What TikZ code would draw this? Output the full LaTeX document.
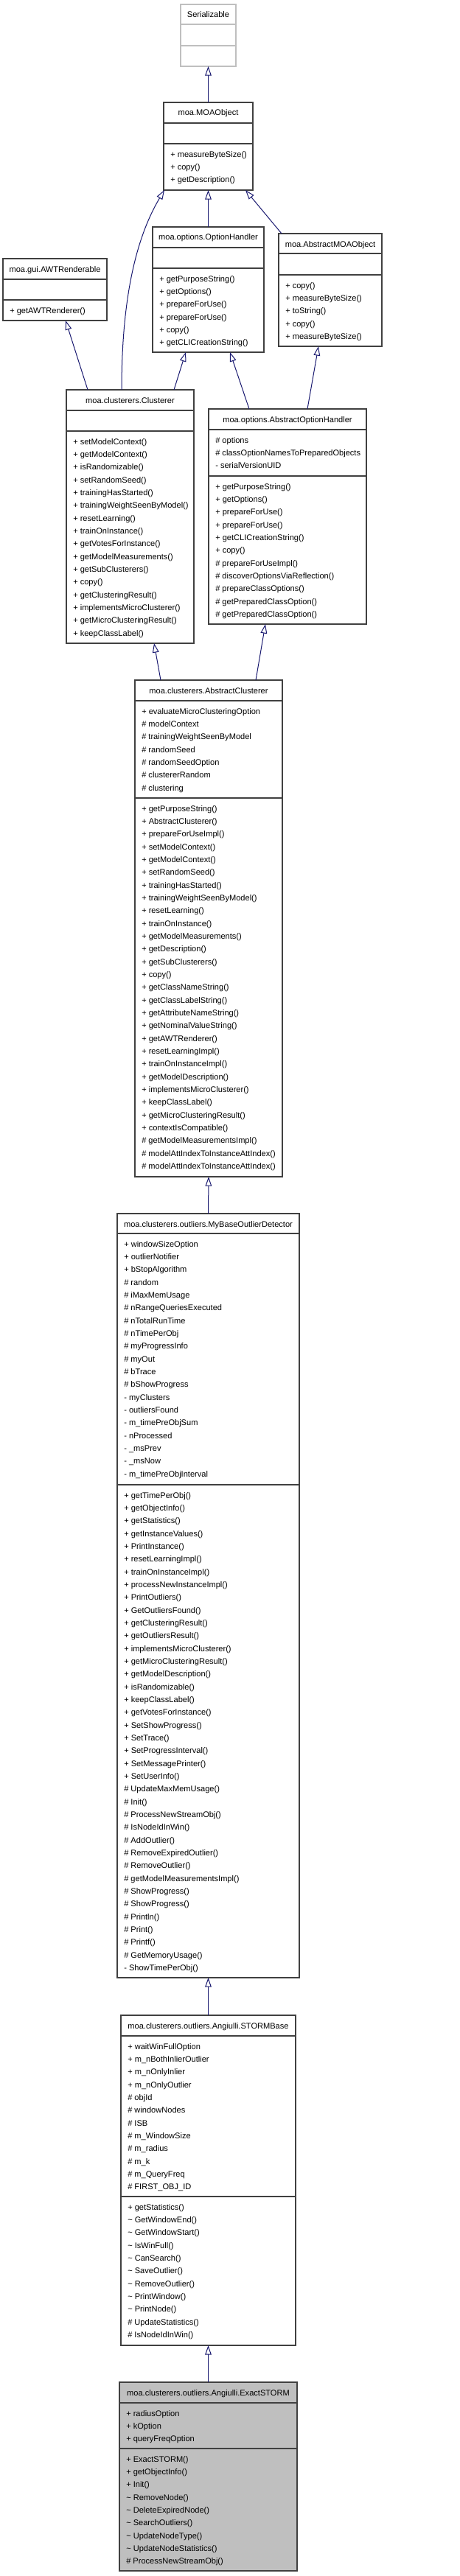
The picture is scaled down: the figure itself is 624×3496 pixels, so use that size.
\documentclass[tikz,border=0pt]{standalone}
\usepackage{fontspec}
\setmainfont{Liberation Sans}
\usetikzlibrary{arrows.meta,fit,calc}
\definecolor{EdgeBlue}{HTML}{191970}
\definecolor{BoxGrey}{HTML}{404040}
\definecolor{ExtGrey}{HTML}{BFBFBF}
\definecolor{SelFill}{HTML}{BFBFBF}

\begin{document}
\begin{tikzpicture}[x=0.75pt, y=-0.75pt,
    classbox/.style={draw=BoxGrey, fill=white, line width=0.9pt, inner sep=0pt, outer sep=0pt},
    extbox/.style={classbox, draw=ExtGrey},
    selbox/.style={classbox, fill=SelFill},
    divider/.style={draw=BoxGrey, line width=0.9pt},
    extdivider/.style={draw=ExtGrey, line width=0.9pt},
    title/.style={anchor=base, inner sep=0pt, font=\fontsize{8.3}{13}\selectfont},
    members/.style={anchor=north west, align=left, inner sep=0pt, font=\fontsize{8.3}{13}\selectfont},
    inherit/.style={draw=EdgeBlue, line width=0.75pt, -{Triangle[open, length=9.5pt, width=6.5pt]}}]

    \fill[white] (0,0) rectangle (624,3496);
    \useasboundingbox (0,0) rectangle (624,3496);

    % Serializable
    \node[extbox, fit={(245,6) (320,90)}] (ser) {};
    \draw[extdivider] (245,33) -- (320,33);
    \draw[extdivider] (245,62) -- (320,62);
    \node[title] (ser-t) at (282.5,24) {Serializable};

    % MOAObject
    \node[classbox, fit={(222,139) (343,258)}] (moa) {};
    \draw[divider] (222,167) -- (343,167);
    \draw[divider] (222,195) -- (343,195);
    \node[title] (moa-t) at (282.5,157) {moa.MOAObject};
    \node[members] (moa-m) at (231,205) {+ measureByteSize()\\+ copy()\\+ getDescription()};

    % OptionHandler
    \node[classbox, fit={(207,308) (358,478)}] (opth) {};
    \draw[divider] (207,336) -- (358,336);
    \draw[divider] (207,364) -- (358,364);
    \node[title] (opth-t) at (282.5,326) {moa.options.OptionHandler};
    \node[members] (opth-m) at (216,374) {+ getPurposeString()\\+ getOptions()\\+ prepareForUse()\\+ prepareForUse()\\+ copy()\\+ getCLICreationString()};

    % AbstractMOAObject
    \node[classbox, fit={(378,317) (518,470)}] (amoa) {};
    \draw[divider] (378,344) -- (518,344);
    \draw[divider] (378,373) -- (518,373);
    \node[title] (amoa-t) at (448,335) {moa.AbstractMOAObject};
    \node[members] (amoa-m) at (387,383) {+ copy()\\+ measureByteSize()\\+ toString()\\+ copy()\\+ measureByteSize()};

    % AWTRenderable
    \node[classbox, fit={(4,351) (145,435)}] (awt) {};
    \draw[divider] (4,379) -- (145,379);
    \draw[divider] (4,407) -- (145,407);
    \node[title] (awt-t) at (74.5,369) {moa.gui.AWTRenderable};
    \node[members] (awt-m) at (13,417) {+ getAWTRenderer()};

    % Clusterer
    \node[classbox, fit={(90,529) (263,873)}] (clus) {};
    \draw[divider] (90,557) -- (263,557);
    \draw[divider] (90,585) -- (263,585);
    \node[title] (clus-t) at (176.5,547) {moa.clusterers.Clusterer};
    \node[members] (clus-m) at (99,595) {+ setModelContext()\\+ getModelContext()\\+ isRandomizable()\\+ setRandomSeed()\\+ trainingHasStarted()\\+ trainingWeightSeenByModel()\\+ resetLearning()\\+ trainOnInstance()\\+ getVotesForInstance()\\+ getModelMeasurements()\\+ getSubClusterers()\\+ copy()\\+ getClusteringResult()\\+ implementsMicroClusterer()\\+ getMicroClusteringResult()\\+ keepClassLabel()};

    % AbstractOptionHandler
    \node[classbox, fit={(283,555) (497,847)}] (aoh) {};
    \draw[divider] (283,583) -- (497,583);
    \draw[divider] (283,646) -- (497,646);
    \node[title] (aoh-t) at (390,573) {moa.options.AbstractOptionHandler};
    \node[members] (aoh-a) at (292,593) {\# options\\\# classOptionNamesToPreparedObjects\\- serialVersionUID};
    \node[members] (aoh-m) at (292,656) {+ getPurposeString()\\+ getOptions()\\+ prepareForUse()\\+ prepareForUse()\\+ getCLICreationString()\\+ copy()\\\# prepareForUseImpl()\\\# discoverOptionsViaReflection()\\\# prepareClassOptions()\\\# getPreparedClassOption()\\\# getPreparedClassOption()};

    % AbstractClusterer
    \node[classbox, fit={(183,923) (383,1597)}] (aclus) {};
    \draw[divider] (183,951) -- (383,951);
    \draw[divider] (183,1083) -- (383,1083);
    \node[title] (aclus-t) at (283,941) {moa.clusterers.AbstractClusterer};
    \node[members] (aclus-a) at (192,961) {+ evaluateMicroClusteringOption\\\# modelContext\\\# trainingWeightSeenByModel\\\# randomSeed\\\# randomSeedOption\\\# clustererRandom\\\# clustering};
    \node[members] (aclus-m) at (192,1093) {+ getPurposeString()\\+ AbstractClusterer()\\+ prepareForUseImpl()\\+ setModelContext()\\+ getModelContext()\\+ setRandomSeed()\\+ trainingHasStarted()\\+ trainingWeightSeenByModel()\\+ resetLearning()\\+ trainOnInstance()\\+ getModelMeasurements()\\+ getDescription()\\+ getSubClusterers()\\+ copy()\\+ getClassNameString()\\+ getClassLabelString()\\+ getAttributeNameString()\\+ getNominalValueString()\\+ getAWTRenderer()\\+ resetLearningImpl()\\+ trainOnInstanceImpl()\\+ getModelDescription()\\+ implementsMicroClusterer()\\+ keepClassLabel()\\+ getMicroClusteringResult()\\+ contextIsCompatible()\\\# getModelMeasurementsImpl()\\\# modelAttIndexToInstanceAttIndex()\\\# modelAttIndexToInstanceAttIndex()};

    % MyBaseOutlierDetector
    \node[classbox, fit={(159,1647) (406,2684)}] (mbod) {};
    \draw[divider] (159,1674) -- (406,1674);
    \draw[divider] (159,2015) -- (406,2015);
    \node[title] (mbod-t) at (282.5,1665) {moa.clusterers.outliers.MyBaseOutlierDetector};
    \node[members] (mbod-a) at (168,1684) {+ windowSizeOption\\+ outlierNotifier\\+ bStopAlgorithm\\\# random\\\# iMaxMemUsage\\\# nRangeQueriesExecuted\\\# nTotalRunTime\\\# nTimePerObj\\\# myProgressInfo\\\# myOut\\\# bTrace\\\# bShowProgress\\- myClusters\\- outliersFound\\- m\_timePreObjSum\\- nProcessed\\- \_msPrev\\- \_msNow\\- m\_timePreObjInterval};
    \node[members] (mbod-m) at (168,2025) {+ getTimePerObj()\\+ getObjectInfo()\\+ getStatistics()\\+ getInstanceValues()\\+ PrintInstance()\\+ resetLearningImpl()\\+ trainOnInstanceImpl()\\+ processNewInstanceImpl()\\+ PrintOutliers()\\+ GetOutliersFound()\\+ getClusteringResult()\\+ getOutliersResult()\\+ implementsMicroClusterer()\\+ getMicroClusteringResult()\\+ getModelDescription()\\+ isRandomizable()\\+ keepClassLabel()\\+ getVotesForInstance()\\+ SetShowProgress()\\+ SetTrace()\\+ SetProgressInterval()\\+ SetMessagePrinter()\\+ SetUserInfo()\\\# UpdateMaxMemUsage()\\\# Init()\\\# ProcessNewStreamObj()\\\# IsNodeIdInWin()\\\# AddOutlier()\\\# RemoveExpiredOutlier()\\\# RemoveOutlier()\\\# getModelMeasurementsImpl()\\\# ShowProgress()\\\# ShowProgress()\\\# Println()\\\# Print()\\\# Printf()\\\# GetMemoryUsage()\\- ShowTimePerObj()};

    % STORMBase
    \node[classbox, fit={(164,2735) (401,3183)}] (stb) {};
    \draw[divider] (164,2763) -- (401,2763);
    \draw[divider] (164,2981) -- (401,2981);
    \node[title] (stb-t) at (282.5,2753) {moa.clusterers.outliers.Angiulli.STORMBase};
    \node[members] (stb-a) at (173,2773) {+ waitWinFullOption\\+ m\_nBothInlierOutlier\\+ m\_nOnlyInlier\\+ m\_nOnlyOutlier\\\# objId\\\# windowNodes\\\# ISB\\\# m\_WindowSize\\\# m\_radius\\\# m\_k\\\# m\_QueryFreq\\\# FIRST\_OBJ\_ID};
    \node[members] (stb-m) at (173,2991) {+ getStatistics()\\\textasciitilde{} GetWindowEnd()\\\textasciitilde{} GetWindowStart()\\\textasciitilde{} IsWinFull()\\\textasciitilde{} CanSearch()\\\textasciitilde{} SaveOutlier()\\\textasciitilde{} RemoveOutlier()\\\textasciitilde{} PrintWindow()\\\textasciitilde{} PrintNode()\\\# UpdateStatistics()\\\# IsNodeIdInWin()};

    % ExactSTORM
    \node[selbox, fit={(162,3233) (403,3489)}] (exs) {};
    \draw[divider] (162,3261) -- (403,3261);
    \draw[divider] (162,3323) -- (403,3323);
    \node[title] (exs-t) at (282.5,3251) {moa.clusterers.outliers.Angiulli.ExactSTORM};
    \node[members] (exs-a) at (171,3271) {+ radiusOption\\+ kOption\\+ queryFreqOption};
    \node[members] (exs-m) at (171,3333) {+ ExactSTORM()\\+ getObjectInfo()\\+ Init()\\\textasciitilde{} RemoveNode()\\\textasciitilde{} DeleteExpiredNode()\\\textasciitilde{} SearchOutliers()\\\textasciitilde{} UpdateNodeType()\\\textasciitilde{} UpdateNodeStatistics()\\\# ProcessNewStreamObj()};

    % inheritance
    \draw[inherit] (moa.north) -- (ser.south);
    \draw[inherit] ($(clus.north west)+(75,0)$) .. controls ($(clus.north west)+(75,-109)$) and ($(moa.south west)+(-42,72)$) .. ($(moa.south west)+(1,0)$);
    \draw[inherit] (opth.north) -- (moa.south);
    \draw[inherit] ($(amoa.north west)+(4,0)$) -- ($(moa.south east)+(-10,0)$);
    \draw[inherit] ($(clus.north west)+(29,0)$) -- ($(awt.south west)+(85,0)$);
    \draw[inherit] ($(clus.north west)+(146,0)$) -- ($(opth.south west)+(45,0)$);
    \draw[inherit] ($(aoh.north west)+(55,0)$) -- ($(opth.south west)+(105,0)$);
    \draw[inherit] ($(aoh.north west)+(134,0)$) -- ($(amoa.south west)+(54,0)$);
    \draw[inherit] ($(aclus.north west)+(35,0)$) -- ($(clus.south west)+(119,0)$);
    \draw[inherit] ($(aclus.north west)+(164,0)$) -- ($(aoh.south west)+(77,0)$);
    \draw[inherit] (mbod.north) -- (aclus.south);
    \draw[inherit] (stb.north) -- (mbod.south);
    \draw[inherit] (exs.north) -- (stb.south);
\end{tikzpicture}
\end{document}
